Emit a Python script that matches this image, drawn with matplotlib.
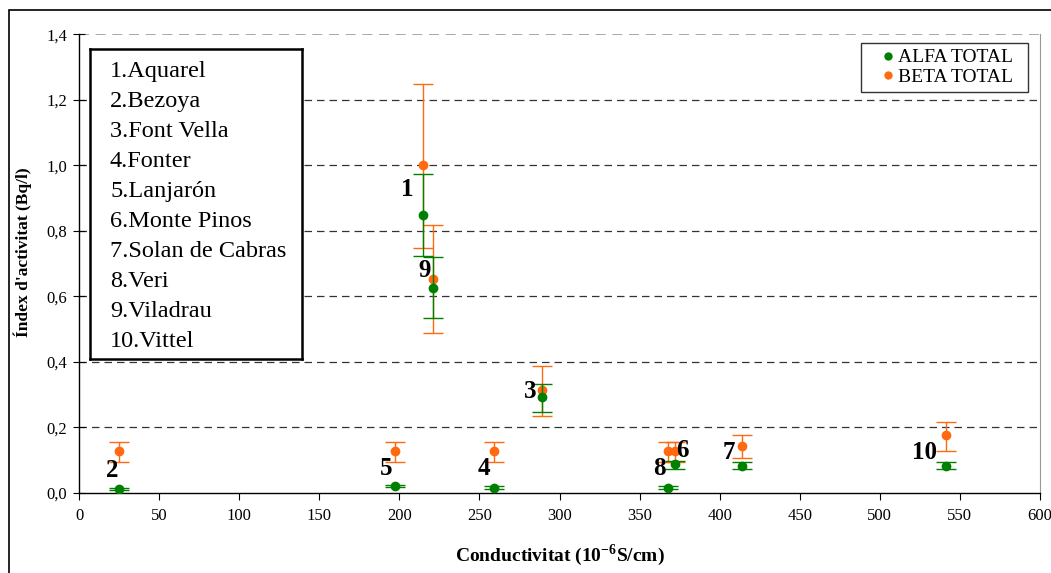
import matplotlib
matplotlib.use("Agg")
import matplotlib.pyplot as plt
from matplotlib.patches import Rectangle
from matplotlib.ticker import FuncFormatter
from matplotlib.lines import Line2D

# ---- data ----
labels = ["1", "2", "3", "4", "5", "6", "7", "8", "9", "10"]
names = ["1.Aquarel", "2.Bezoya", "3.Font Vella", "4.Fonter", "5.Lanjarón",
         "6.Monte Pinos", "7.Solan de Cabras", "8.Veri", "9.Viladrau", "10.Vittel"]
conduct = [215, 25, 289, 259, 197, 372, 414, 368, 221, 541]
alfa = [0.85, 0.012, 0.293, 0.016, 0.021, 0.088, 0.083, 0.016, 0.627, 0.083]
alfa_lo = [0.723, 0.009, 0.247, 0.012, 0.017, 0.073, 0.072, 0.012, 0.533, 0.072]
alfa_hi = [0.973, 0.015, 0.333, 0.020, 0.025, 0.098, 0.095, 0.020, 0.721, 0.095]
beta = [1.00, 0.129, 0.314, 0.129, 0.129, 0.129, 0.144, 0.129, 0.654, 0.177]
beta_lo = [0.748, 0.096, 0.235, 0.096, 0.096, 0.096, 0.107, 0.096, 0.489, 0.129]
beta_hi = [1.248, 0.157, 0.388, 0.157, 0.157, 0.157, 0.178, 0.157, 0.818, 0.216]
label_x = [205, 21, 281.5, 253, 191.6, 377, 405.7, 362.7, 215.5, 528]
label_y = [0.925, 0.07, 0.31, 0.076, 0.076, 0.131, 0.125, 0.076, 0.68, 0.125]
xticks = list(range(0, 601, 50))
yticks = [0.0, 0.2, 0.4, 0.6, 0.8, 1.0, 1.2, 1.4]

GREEN = "#008000"
ORANGE = "#FF6A10"
SERIF = ["Liberation Serif", "DejaVu Serif"]

plt.rcParams["font.family"] = SERIF
plt.rcParams["mathtext.fontset"] = "custom"
plt.rcParams["mathtext.rm"] = "Liberation Serif"
plt.rcParams["mathtext.bf"] = "Liberation Serif:bold"

fig = plt.figure(figsize=(10.51, 5.73), dpi=100)
ax = fig.add_axes([79/1051, 1-493/573, (1040-79)/1051, (493-34.3)/573])

# outer chart border (cut off at right/bottom in reference)
fig.patches.append(Rectangle((9/1051, -0.05), 1.1, 1-10/573+0.05, transform=fig.transFigure,
                             fill=False, edgecolor="black", linewidth=1.2))

ax.set_xlim(0, 600)
ax.set_ylim(0, 1.4)
ax.set_xticks(xticks)
ax.set_yticks(yticks)
ax.yaxis.set_major_formatter(FuncFormatter(lambda v, p: f"{v:.1f}".replace(".", ",")))
for yv in yticks[1:-1]:
    ax.axhline(yv, color="#333333", linestyle=(0, (6, 4)), linewidth=0.9, zorder=0)
ax.axhline(yticks[-1], color="#999999", linestyle=(0, (6, 4)), linewidth=1.2, zorder=0)

ax.spines["top"].set_visible(False)
ax.spines["right"].set_color("#999999")
ax.spines["left"].set_linewidth(1.0)
ax.spines["bottom"].set_linewidth(1.0)
ax.tick_params(axis="x", direction="out", length=5, labelsize=12, pad=6)
ax.tick_params(axis="y", direction="inout", length=9, labelsize=12, pad=4)

# beta
bl = [b - l for b, l in zip(beta, beta_lo)]
bh = [h - b for b, h in zip(beta, beta_hi)]
ax.errorbar(conduct, beta, yerr=[bl, bh], fmt="o", color=ORANGE, ecolor=ORANGE,
            markersize=6, capsize=7, elinewidth=1, capthick=1, zorder=3)
al = [a - l for a, l in zip(alfa, alfa_lo)]
ah = [h - a for a, h in zip(alfa, alfa_hi)]
ax.errorbar(conduct, alfa, yerr=[al, ah], fmt="o", color=GREEN, ecolor=GREEN,
            markersize=6, capsize=7, elinewidth=1, capthick=1, zorder=4)

for t, x, y in zip(labels, label_x, label_y):
    ax.text(x, y, t, fontsize=18, fontweight="bold", ha="center", va="center", zorder=5)

# names box
bx = fig.add_axes([90/1051, 1-359/573, (302-90)/1051, (359-49)/573])
bx.set_xticks([]); bx.set_yticks([])
for s in bx.spines.values():
    s.set_linewidth(1.8)
for i, n in enumerate(names):
    bx.text(20/212, 1 - (71 - 49 + i * 30.1) / 310, n, fontsize=17.5, va="center", ha="left",
            transform=bx.transAxes)

# legend
handles = [Line2D([], [], marker="o", color=GREEN, linestyle="none", markersize=5),
           Line2D([], [], marker="o", color=ORANGE, linestyle="none", markersize=5)]
leg = ax.legend(handles, ["ALFA TOTAL  ", "BETA TOTAL  "], loc="upper right",
                bbox_to_anchor=((1028-79)/961, 1 - (43-34.3)/458.7),
                frameon=True, fancybox=False, edgecolor="black", fontsize=14,
                handlelength=2.2, handletextpad=-0.6, borderpad=0.3, labelspacing=0.1,
                borderaxespad=0)
leg.get_frame().set_linewidth(1.0)

ax.set_xlabel("Conductivitat (10$^{\\mathbf{-6}}$S/cm)", fontsize=14, fontweight="bold", labelpad=13)
ax.set_ylabel("Índex d'activitat (Bq/l)", fontsize=12.5, fontweight="bold")
ax.yaxis.set_label_coords(-0.049, 0.525)

fig.savefig("out.png", dpi=100)
